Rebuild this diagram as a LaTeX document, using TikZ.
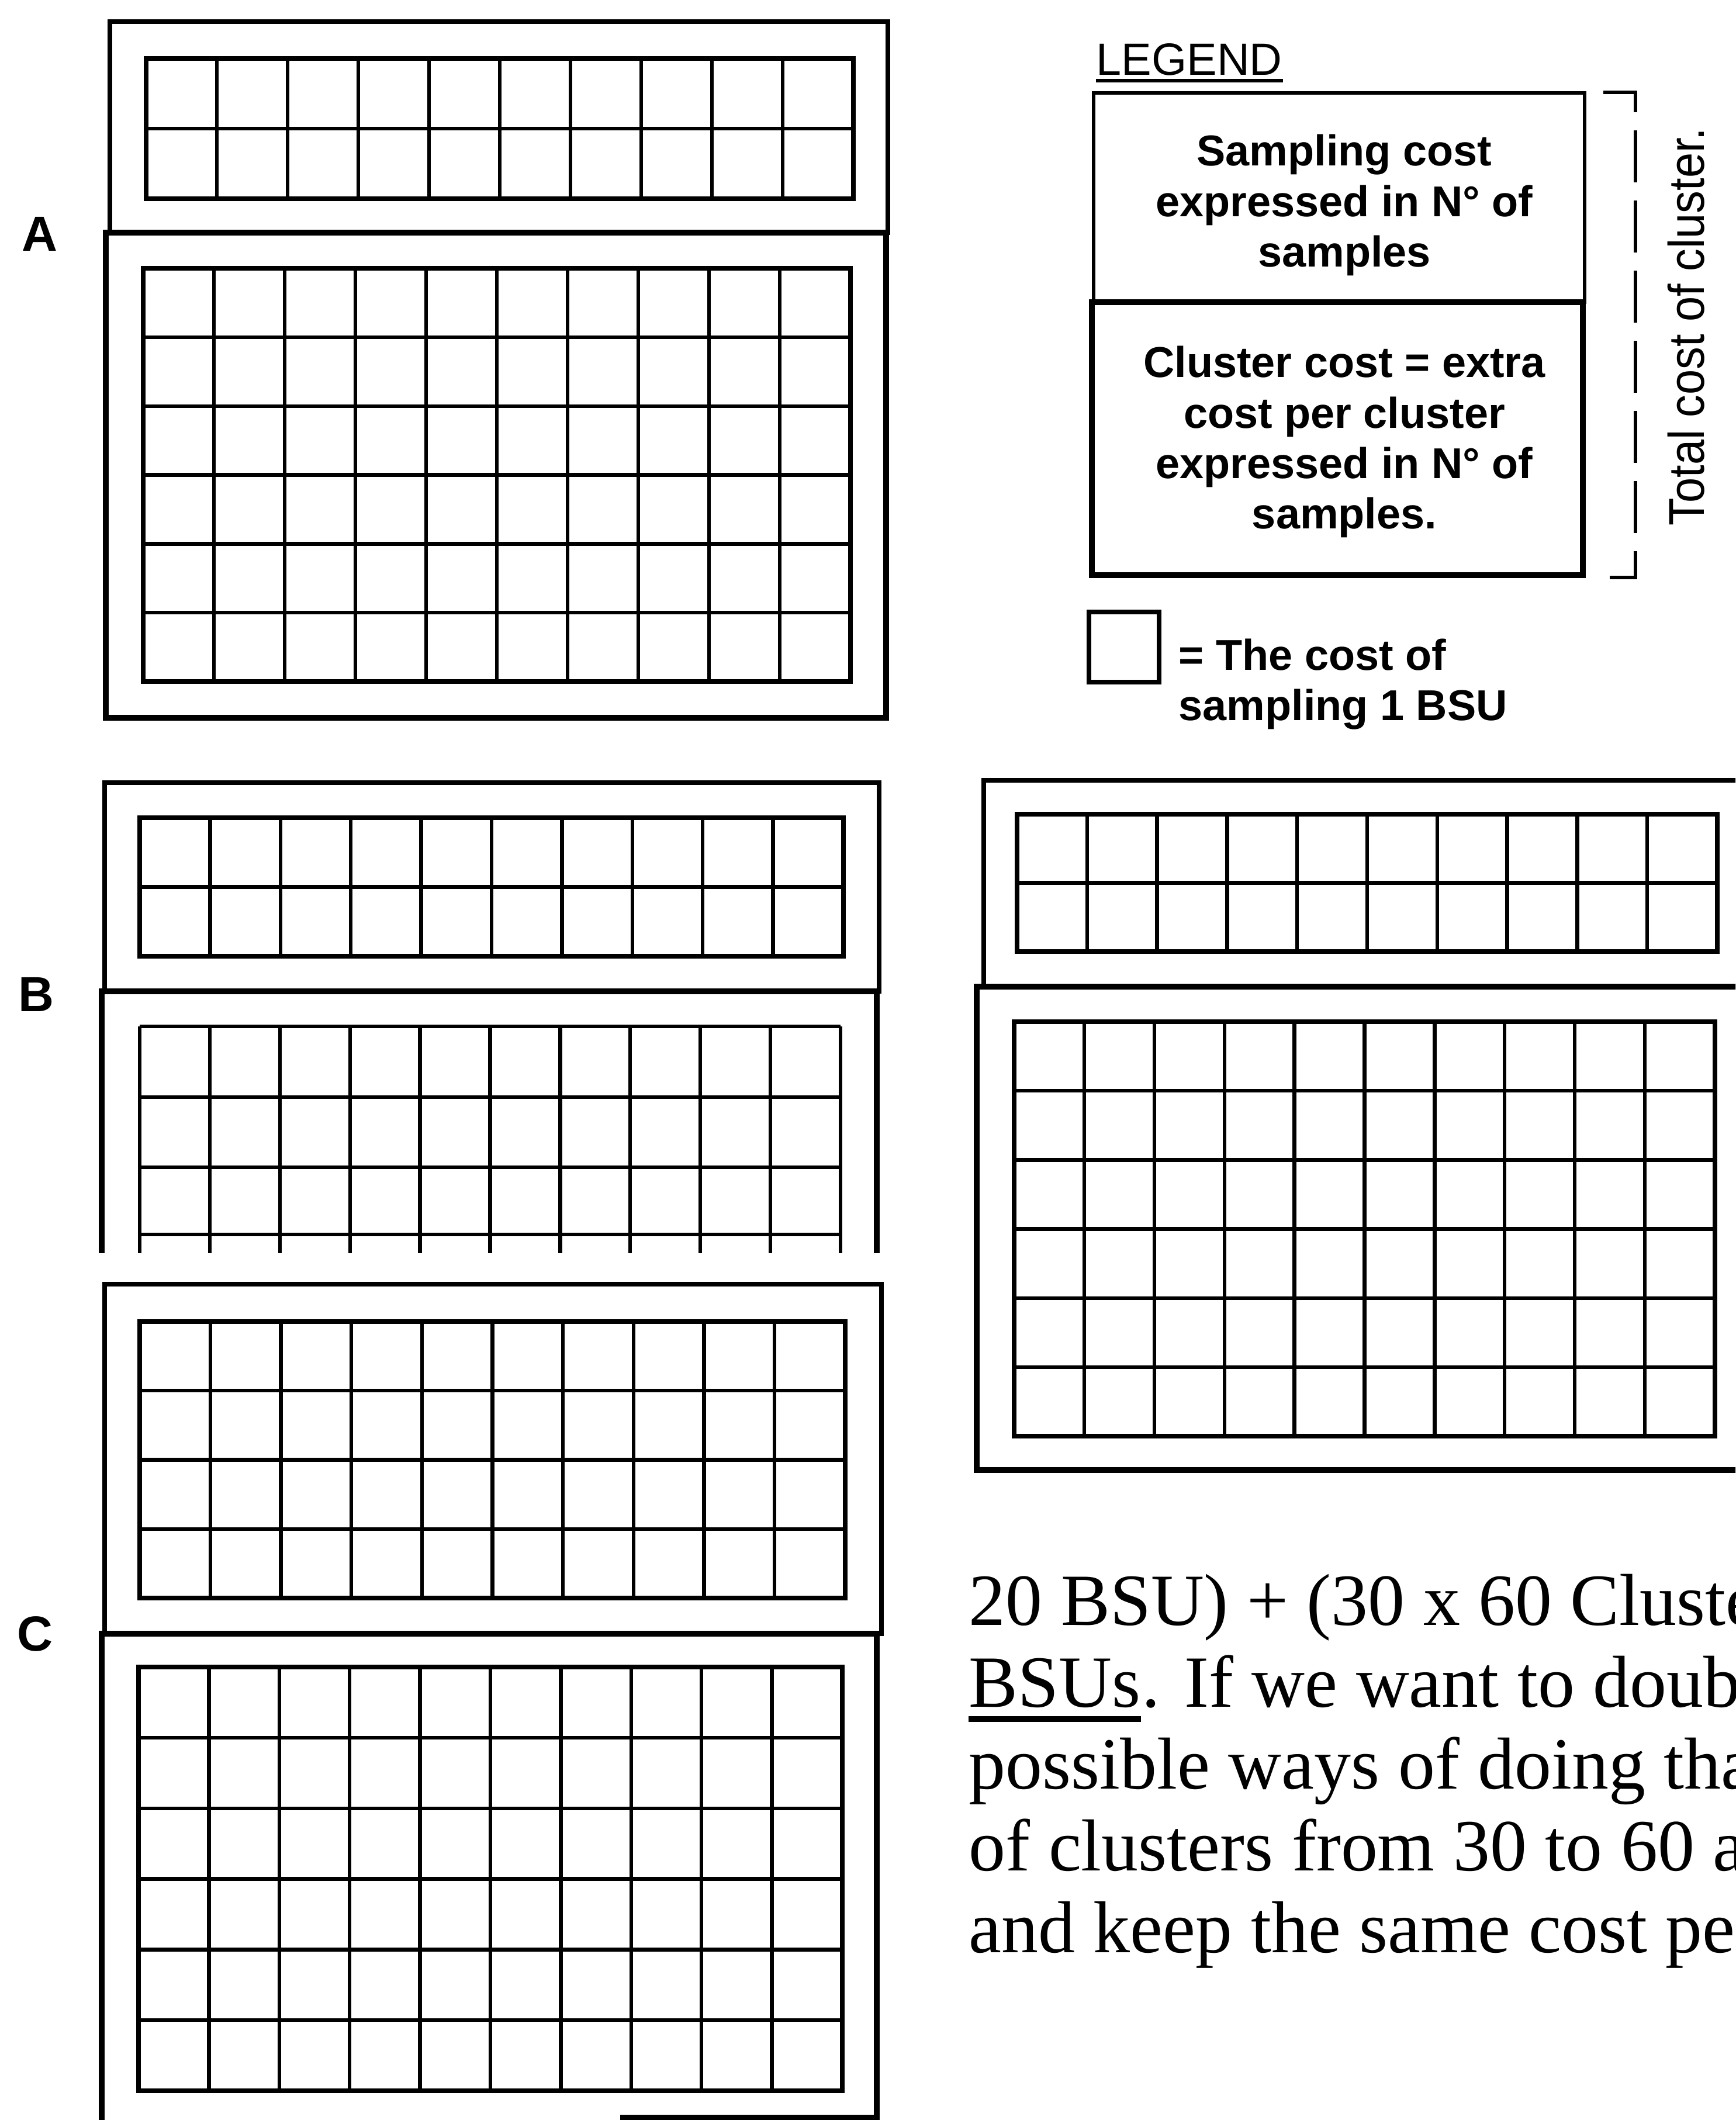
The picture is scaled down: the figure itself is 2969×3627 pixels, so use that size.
\documentclass[tikz,border=0pt]{standalone}
\usepackage{fontspec}
\setmainfont{Liberation Sans}
\newfontfamily\narrowsans[FakeStretch=0.9]{Liberation Sans}
\newfontfamily\bookserif{Liberation Serif}
\usetikzlibrary{calc,positioning}

\newcommand{\bsugrid}[5]{%
  \draw[cellframe] (#1,#2) rectangle (#3,#4);
  \foreach \k in {1,...,9}
    \draw[cellline] ($(#1,#2)!\k/10!(#3,#2)$) -- ($(#1,#4)!\k/10!(#3,#4)$);
  \pgfmathtruncatemacro{\lastrow}{#5-1}
  \foreach \k in {1,...,\lastrow}
    \draw[cellline] ($(#1,#2)!\k/#5!(#1,#4)$) -- ($(#3,#2)!\k/#5!(#3,#4)$);
}

\begin{document}
\begin{tikzpicture}[
    x=0.01cm,
    y=-0.01cm,
    outerbox/.style={draw, line width=2.2pt},
    legendbox/.style={draw, line width=1.9pt},
    clusterbox/.style={draw, line width=3pt},
    cellframe/.style={draw, line width=2.3pt},
    cellline/.style={draw, line width=1.8pt},
    uline/.style={draw, line width=1.5pt},
    bracket/.style={draw, line width=1.8pt, dash pattern=on 0.89cm off 0.31cm},
    legendtext/.style={font=\fontsize{21}{24.5}\selectfont\bfseries, align=center, inner sep=0pt},
    keytext/.style={legendtext, align=left},
    letter/.style={font=\fontsize{24}{28}\selectfont\bfseries, inner sep=0pt},
    prose/.style={font=\bookserif\fontsize{35.8}{40}\selectfont, inner sep=0pt, anchor=base west}
  ]
    \useasboundingbox (0,0) rectangle (2969,3627);
    \clip (0,0) rectangle (2969,3627);
    \fill[white] (0,0) rectangle (2969,3627);

    \draw[outerbox] (188,37) rectangle (1519,398);
    \draw[clusterbox] (181,398) rectangle (1516,1228);
    \bsugrid{250}{100}{1460}{340}{2}
    \bsugrid{245}{459}{1455}{1166}{6}
    \node[letter] (labA) at (68,400) {A};

    \draw[outerbox] (179,1339) rectangle (1504,1696);
    \draw[clusterbox] (174,2144) -- (174,1696) -- (1500,1696) -- (1500,2144);
    \bsugrid{239}{1399}{1443}{1636}{2}
    \foreach \r in {1756,1877,1997,2112}
      \draw[cellline] (239,\r) -- (1438,\r);
    \foreach \k in {0,...,10}
      \draw[cellline] ($(239,1756)!\k/10!(1438,1756)$) -- ($(239,2144)!\k/10!(1438,2144)$);
    \node[letter] (labB) at (62,1701) {B};

    \draw[outerbox] (179,2197) rectangle (1508,2795);
    \draw[clusterbox] (174,3660) -- (174,2795) -- (1500,2795) -- (1500,3660);
    \draw[clusterbox] (1061,3623) -- (1500,3623);
    \bsugrid{239}{2261}{1446}{2734}{4}
    \bsugrid{237}{2852}{1441}{3577}{6}
    \node[letter] (labC) at (60,2795) {C};

    \draw[outerbox] (3040,1335) -- (1683,1335) -- (1683,1688) -- (3040,1688);
    \draw[clusterbox] (3040,1688) -- (1671,1688) -- (1671,2515) -- (3040,2515);
    \bsugrid{1740}{1393}{2938}{1628}{2}
    \bsugrid{1735}{1748}{2934}{2457}{6}

    \node[font=\fontsize{22}{26}\selectfont, inner sep=0pt, anchor=base west] (legendhead) at (1875,129) {LEGEND};
    \draw[uline] ([yshift=-0.09cm]legendhead.base west) -- ([yshift=-0.09cm]legendhead.base east);
    \draw[legendbox] (1871,159) rectangle (2711,517);
    \draw[clusterbox] (1868,517) rectangle (2708,984);
    \node[legendtext] (samplingcost) at (2300,351) {Sampling cost\\expressed in N° of\\samples};
    \node[legendtext] (clustercost) at (2300,756) {Cluster cost = extra\\cost per cluster\\expressed in N° of\\samples.};
    \draw[bracket] (2743,158) -- (2798,158) -- (2798,988) -- (2743,988);
    \node[font=\narrowsans\fontsize{24.5}{28}\selectfont, inner sep=0pt, rotate=90, anchor=base] (totalcost) at (2915,559) {Total cost of cluster.};
    \draw[outerbox] (1863,1047) rectangle (1983,1167);
    \node[keytext, anchor=north west] (bsukey) at (2016,1092) {= The cost of\\sampling 1 BSU};

    \node[prose] (sumline) at (1657,2780) {20 BSU) + (30 x 60 Cluste};
    \node[prose] (bsus) at (1657,2920) {BSUs};
    \node[prose] (doubleline) at (bsus.base east) {. If we want to doub};
    \draw[uline, line width=2.6pt] ([yshift=-0.21cm]bsus.base west) -- ([yshift=-0.21cm]bsus.base east);
    \node[prose] (waysline) at (1657,3060) {possible ways of doing tha};
    \node[prose] (clustersline) at (1657,3200) {of clusters from 30 to 60 a};
    \node[prose] (keepline) at (1657,3340) {and keep the same cost pe};
  \end{tikzpicture}
\end{document}
